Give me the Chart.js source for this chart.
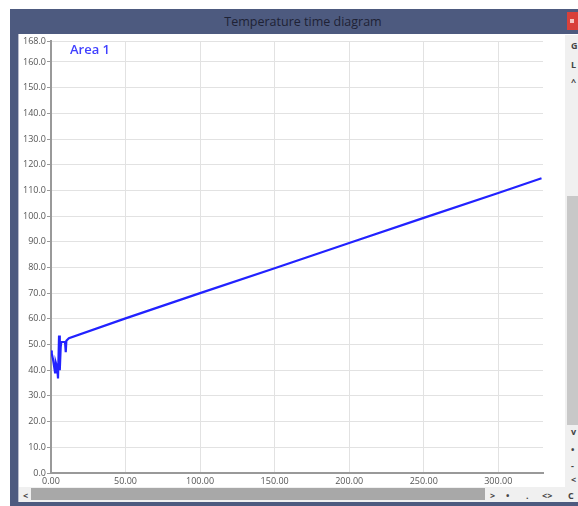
<!DOCTYPE html>
<html>
<head>
<meta charset="utf-8">
<title>Temperature time diagram</title>
<script src="https://cdn.jsdelivr.net/npm/chart.js@4.4.0/dist/chart.umd.min.js"></script>
<style>
  html, body { margin: 0; padding: 0; background: #fff; }
  body { width: 578px; height: 506px; position: relative; overflow: hidden; font-family: "Open Sans", "Noto Sans", sans-serif; }
  .frame-left { position: absolute; left: 10px; top: 9px; width: 8px; height: 497px; background: #4d5a7f; }
  .frame-line { position: absolute; left: 18px; top: 34px; width: 1px; height: 470px; background: #b8bccb; }
  .frame-bottom { position: absolute; left: 10px; top: 502px; width: 568px; height: 4px; background: #4d5a7f; }
  .titlebar { position: absolute; left: 10px; top: 9px; width: 568px; height: 25px; background: #4d5a7f; }
  .titlebar span { position: absolute; left: 0; width: 586px; top: 4px; text-align: center; font-size: 12.5px; color: #1e2235; }
  .close { position: absolute; left: 567px; top: 12px; width: 14px; height: 18px; background: #d9403a; }
  .close::after { content: ""; position: absolute; left: 3px; top: 7px; width: 4px; height: 4px; background: #f3c6c2; }
  #wrap { position: absolute; left: 19px; top: 35px; width: 546px; height: 452px; }
  .side { position: absolute; left: 565px; top: 35px; width: 13px; height: 452px; background: #f0f0f0; font-size: 9px; color: #444; }
  .side b { position: absolute; left: 6px; font-weight: bold; }
  .vthumb { position: absolute; left: 2px; top: 161px; width: 11px; height: 229px; background: #c8c8c8; }
  .hbar { position: absolute; left: 19px; top: 487px; width: 559px; height: 15px; background: #f0f0f0; font-size: 9px; color: #444; }
  .hbar b { position: absolute; top: 2px; font-weight: bold; }
  .hthumb { position: absolute; left: 12px; top: 1px; width: 454px; height: 12px; background: #a8a8a8; }
</style>
</head>
<body>
<div class="titlebar"><span>Temperature time diagram</span></div>
<div class="close"></div>
<div class="frame-left"></div>
<div class="frame-line"></div>
<div id="wrap"><canvas id="chart" width="546" height="452"></canvas></div>
<div class="side">
  <b style="top:4px">G</b>
  <b style="top:23px">L</b>
  <b style="top:40px">^</b>
  <div class="vthumb"></div>
  <b style="top:390px">v</b>
  <b style="top:408px">•</b>
  <b style="top:424px">-</b>
  <b style="top:438px">&lt;</b>
</div>
<div class="hbar">
  <b style="left:4px">&lt;</b>
  <div class="hthumb"></div>
  <b style="left:471px">&gt;</b>
  <b style="left:487px">•</b>
  <b style="left:507px">.</b>
  <b style="left:523px">&lt;&gt;</b>
  <b style="left:549px">C</b>
</div>
<div class="frame-bottom"></div>

<script>
// time axis (seconds) and measured temperature for "Area 1"
const timeValues = [0, 0.5, 1.3, 2.0, 2.7, 3.2, 4.2, 4.7, 5.4, 5.9, 6.5, 6.9, 9.4, 9.9, 10.3, 12,
                    50, 100, 150, 200, 250, 300, 329];
const tempValues = [47.7, 46.5, 44.4, 41.8, 39.2, 43.0, 41.0, 36.8, 53.5, 40.0, 49.0, 51.0, 51.0, 47.0, 51.5, 52.5,
                    60.2, 70.0, 79.7, 89.5, 99.3, 109.0, 114.7];

const timeTicks = [0, 50, 100, 150, 200, 250, 300];
const tempTicks = [0, 10, 20, 30, 40, 50, 60, 70, 80, 90, 100, 110, 120, 130, 140, 150, 160, 168];
const seriesName = 'Area 1';

const points = timeValues.map((t, i) => ({ x: t, y: tempValues[i] }));

// series name written inside the plot, top left
const areaLabel = {
  id: 'areaLabel',
  afterDraw(chart) {
    const ctx = chart.ctx;
    ctx.save();
    ctx.font = '600 13px "Open Sans", sans-serif';
    ctx.fillStyle = '#4040ff';
    ctx.textBaseline = 'top';
    ctx.fillText(seriesName, chart.chartArea.left + 19, chart.chartArea.top + 2);
    ctx.restore();
  }
};

new Chart(document.getElementById('chart'), {
  type: 'line',
  data: {
    datasets: [{
      label: seriesName,
      data: points,
      borderColor: '#2222ff',
      borderWidth: 2.2,
      pointRadius: 0,
      tension: 0,
      fill: false
    }]
  },
  options: {
    responsive: false,
    animation: false,
    layout: { padding: { top: 5, right: 22, left: 0, bottom: 0 } },
    plugins: { legend: { display: false }, tooltip: { enabled: false } },
    scales: {
      x: {
        type: 'linear',
        min: 0,
        max: 330,
        afterBuildTicks: s => { s.ticks = timeTicks.map(v => ({ value: v })); },
        afterFit: s => { s.height = 14; },
        border: { color: '#999', width: 2 },
        grid: { color: '#e2e2e2', drawTicks: false },
        ticks: {
          padding: 3,
          maxRotation: 0,
          color: '#555',
          font: { size: 9, family: '"Open Sans", sans-serif' },
          callback: v => v.toFixed(2)
        }
      },
      y: {
        min: 0,
        max: 168,
        afterBuildTicks: s => { s.ticks = tempTicks.map(v => ({ value: v })); },
        afterFit: s => { s.width = 32; },
        border: { color: '#999', width: 2 },
        grid: { color: '#e2e2e2', tickLength: 4, tickColor: '#999' },
        ticks: {
          padding: 1,
          color: '#555',
          font: { size: 9, family: '"Open Sans", sans-serif' },
          callback: v => v.toFixed(1)
        }
      }
    }
  },
  plugins: [areaLabel]
});
</script>
</body>
</html>
